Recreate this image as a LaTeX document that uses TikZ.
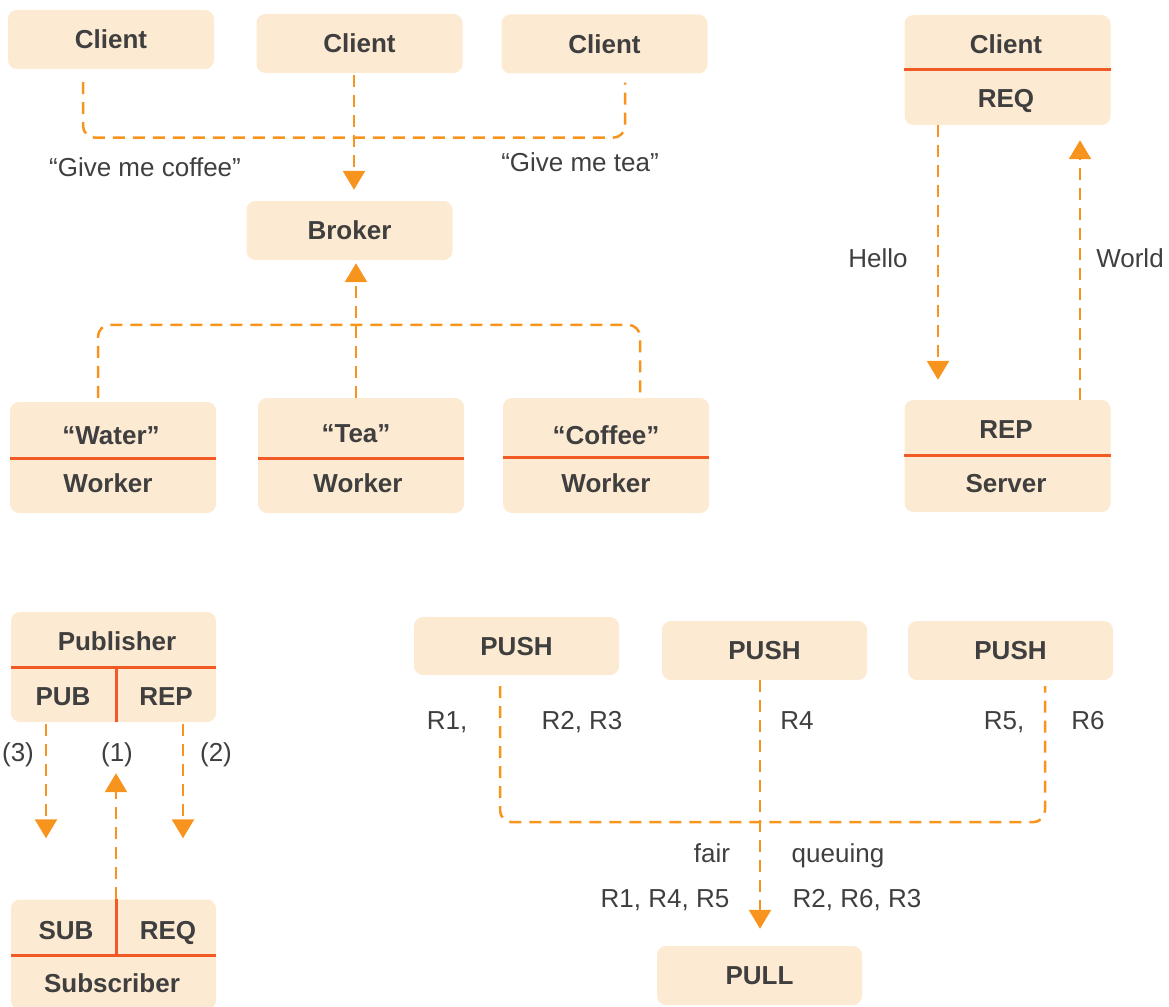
\documentclass[tikz,border=0pt]{standalone}
\usepackage{fontspec}
\setmainfont{Liberation Sans}
\usetikzlibrary{arrows.meta,calc}
\definecolor{boxfill}{HTML}{FDEAD2}
\definecolor{txt}{HTML}{3F3F3F}
\definecolor{dashc}{HTML}{F7941D}
\definecolor{divc}{HTML}{F15A24}
\newcommand\zboxfont{\fontsize{26}{30}\selectfont\bfseries}
\newcommand\zlblfont{\fontsize{26}{30}\selectfont}
\begin{document}
\begin{tikzpicture}[x=1pt,y=-1pt,
  box/.style={fill=boxfill,rounded corners=9pt,inner sep=0pt,text=txt,font=\zboxfont,text height=18.6pt,text depth=0pt,minimum width=206pt},
  btxt/.style={inner sep=0pt,text=txt,font=\zboxfont,text height=18.6pt,text depth=0pt},
  lbl/.style={inner sep=0pt,text=txt,font=\zlblfont,text height=18.6pt,text depth=0pt},
  flow/.style={draw=dashc,line width=2.5pt,dash pattern=on 12pt off 8pt,rounded corners=12pt},
  arr/.style={flow,-{Triangle[width=22pt,length=19pt]},dashc},
  divl/.style={draw=divc,line width=3pt},
]
\useasboundingbox (0,0) rectangle (1169,1006);

% ---------- Broker pattern ----------
\node[box,minimum height=59pt] (c1) at (111,39.5) {Client};
\node[box,minimum height=59pt] (c2) at (359.5,43.5) {Client};
\node[box,minimum height=59pt] (c3) at (604.5,44) {Client};
\node[box,minimum height=59pt] (br) at (349.5,230.5) {Broker};

\node[box,minimum height=111pt] (w1) at (113,457.5) {};
\node[btxt] (w1a) at (111,435) {“Water”};
\node[btxt] (w1b) at (108,483) {Worker};
\draw[divl] (w1.west |- 0,458) -- (w1.east |- 0,458);

\node[box,minimum height=115pt] (w2) at (361,455.5) {};
\node[btxt] (w2a) at (356,433) {“Tea”};
\node[btxt] (w2b) at (358,483) {Worker};
\draw[divl] (w2.west |- 0,458) -- (w2.east |- 0,458);

\node[box,minimum height=115pt] (w3) at (606,455.5) {};
\node[btxt] (w3a) at (606,435) {“Coffee”};
\node[btxt] (w3b) at (606,483) {Worker};
\draw[divl] (w3.west |- 0,457) -- (w3.east |- 0,457);

\draw[flow] ($(c1.south)+(-28,13)$) |- ($(c3.south)+(20.5,64)$) -- ($(c3.south)+(20.5,9)$);
\draw[arr] ($(c2.south)+(-5.5,2)$) -- ($(br.north)+(4.5,-11)$);
\node[lbl] (lcoffee) at (145,167) {“Give me coffee”};
\node[lbl] (ltea) at (580,162) {“Give me tea”};

\draw[flow] ($(w1.north)+(-15,-4)$) |- ($(w3.north)+(34,-73)$) -- ($(w3.north)+(34,0)$);
\draw[arr] ($(w2.north)+(-5,0)$) -- ($(br.south)+(6.5,3)$);

% ---------- REQ / REP ----------
\node[box,minimum height=110pt] (rq) at (1007.5,70) {};
\node[btxt] (rqa) at (1006,44) {Client};
\node[btxt] (rqb) at (1006,98) {REQ};
\draw[divl] (rq.west |- 0,70) -- (rq.east |- 0,70);

\node[box,minimum height=112pt] (rp) at (1007.5,456) {};
\node[btxt] (rpa) at (1006,429) {REP};
\node[btxt] (rpb) at (1006,483) {Server};
\draw[divl] (rp.west |- 0,455) -- (rp.east |- 0,455);

\draw[arr] ($(rq.south)+(-69.5,0)$) -- ($(rp.north)+(-69.5,-20)$);
\draw[arr] ($(rp.north)+(72.5,0)$) -- ($(rq.south)+(72.5,15)$);
\node[lbl] (lhello) at (878,258) {Hello};
\node[lbl] (lworld) at (1130,258) {World};

% ---------- PUB / SUB ----------
\node[box,minimum width=205pt,minimum height=110pt] (pb) at (113.5,667) {};
\node[btxt] (pba) at (117,641) {Publisher};
\node[btxt] (pbb) at (63,696) {PUB};
\node[btxt] (pbc) at (166,696) {REP};
\draw[divl] (pb.west |- 0,667) -- (pb.east |- 0,667);
\draw[divl] (116,667) -- (116,0 |- pb.south);

\node[box,minimum width=205pt,minimum height=110pt] (sb) at (113.5,954.5) {};
\node[btxt] (sba) at (66,930) {SUB};
\node[btxt] (sbb) at (168,930) {REQ};
\node[btxt] (sbc) at (112,983) {Subscriber};
\draw[divl] (sb.west |- 0,955) -- (sb.east |- 0,955);
\draw[divl] (116,0 |- sb.north) -- (116,955);

\draw[arr] ($(pb.south)+(-67.5,2)$) -- ($(sb.north)+(-67.5,-61)$);
\draw[arr] ($(pb.south)+(69.5,2)$) -- ($(sb.north)+(69.5,-61)$);
\draw[arr] ($(sb.north)+(2.5,0)$) -- ($(pb.south)+(2.5,51)$);
\node[lbl] (l3) at (18,752) {(3)};
\node[lbl] (l1) at (117,752) {(1)};
\node[lbl] (l2) at (216,752) {(2)};

% ---------- PUSH / PULL ----------
\node[box,minimum width=205pt,minimum height=58pt] (p1) at (516.5,646) {PUSH};
\node[box,minimum width=205pt,minimum height=59pt] (p2) at (764.5,650.5) {PUSH};
\node[box,minimum width=205pt,minimum height=59pt] (p3) at (1010.5,650.5) {PUSH};
\node[box,minimum width=205pt,minimum height=59pt] (pl) at (759.5,975.5) {PULL};

\draw[flow] ($(p1.south)+(-16.5,11)$) |- ($(p3.south)+(34.5,142)$) -- ($(p3.south)+(34.5,6)$);
\draw[arr] ($(p2.south)+(-4.5,0)$) -- ($(pl.north)+(0.5,-17)$);

\node[lbl] (r1) at (447,720) {R1,};
\node[lbl] (r23) at (582,720) {R2, R3};
\node[lbl] (r4) at (797,720) {R4};
\node[lbl] (r5) at (1004,720) {R5,};
\node[lbl] (r6) at (1088,720) {R6};
\node[lbl] (lfair) at (712,853) {fair};
\node[lbl] (lqueue) at (838,853) {queuing};
\node[lbl] (lleft) at (665,898) {R1, R4, R5};
\node[lbl] (lright) at (857,898) {R2, R6, R3};
\end{tikzpicture}
\end{document}
